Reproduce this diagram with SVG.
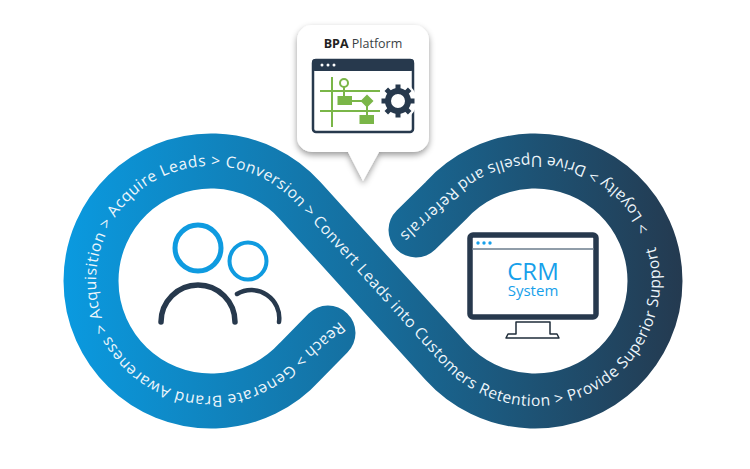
<svg xmlns="http://www.w3.org/2000/svg" width="750" height="469" viewBox="0 0 750 469">
<style>
.band{font-family:"Open Sans","DejaVu Sans",sans-serif;font-size:15.6px;font-weight:500;fill:#eef6fb;letter-spacing:.52px}
.tail{letter-spacing:.73px}
.d{fill:#27394d}.g{stroke:#7ab648;stroke-width:2;fill:none}.gf{fill:#7ab648}
.dk{fill:none;stroke:#27394d;stroke-linecap:round}
.bl{fill:none;stroke:#0f9be0}
.crm{font-family:"Open Sans","DejaVu Sans",sans-serif;fill:#17a0ea;text-anchor:middle}
</style>
<defs>
<linearGradient id="grad" gradientUnits="userSpaceOnUse" x1="63" y1="0" x2="682" y2="0">
<stop offset="0" stop-color="#0a9ae0"/><stop offset=".5" stop-color="#166d9c"/><stop offset="1" stop-color="#243a50"/>
</linearGradient>
<filter id="sh" x="-20%" y="-20%" width="140%" height="140%"><feDropShadow dx="0" dy="3" stdDeviation="3" flood-color="#000" flood-opacity=".4"/></filter>
<path id="tp" d="M341 320 L296.2 358.2 A115 115 0 1 1 296.2 203.8 L442.4 364.9 A125 125 0 1 0 442.4 197.1 L398 236"/>
</defs>
<rect width="750" height="469" fill="#fff"/>
<g id="connectors">
<path d="M328 333 L300 361.5 A120 120 0 1 1 300 200.5 L446 361.5 A120 120 0 1 0 446 200.5 L416 230" fill="none" stroke="url(#grad)" stroke-width="55" stroke-linecap="round"/>
<text class="band"><textPath href="#tp" startOffset="2">Reach &gt; Generate Brand Awareness &gt; Acquisition &gt; Acquire Leads &gt; Conversion &gt; Convert Leads into Customers Retention &gt; Provide Superior Support</textPath></text>
<text class="band tail"><textPath href="#tp" startOffset="1182">&gt; Loyalty &gt; Drive Upsells and Referrals</textPath></text>
</g>
<g id="bpa-platform">
<path d="M312 25H414a15 15 0 0 1 15 15V137a15 15 0 0 1-15 15H379L363 181L348 152H312a15 15 0 0 1-15-15V40a15 15 0 0 1 15-15Z" fill="#fff" filter="url(#sh)"/>
<text x="363" y="47.500" text-anchor="middle" font-family="'Open Sans','DejaVu Sans',sans-serif" font-size="12.500" fill="#3a3f45"><tspan font-weight="700" fill="#222">BPA</tspan> Platform</text>
<rect x="313" y="60" width="100" height="72" rx="3" fill="#fff" stroke="#27394d" stroke-width="2.500"/>
<rect x="312" y="59" width="102" height="12" rx="3" class="d"/>
<g fill="#fff"><circle cx="322" cy="65" r="1.500"/><circle cx="328" cy="65" r="1.500"/><circle cx="334" cy="65" r="1.500"/></g>
<path class="g" d="M332 77V127M320 91H380M320 111H380M344 87V97M352 101H362M367 106V116"/>
<circle cx="344" cy="83" r="4" class="g"/>
<rect x="337.500" y="96" width="14.500" height="9" class="gf"/>
<path d="M367 94.500L373.500 101L367 107.500L360.500 101Z" class="gf"/>
<rect x="359.500" y="115" width="14.500" height="9" class="gf"/>
<circle cx="398" cy="101" r="19" fill="#fff"/>
<circle cx="398" cy="101" r="10" fill="none" stroke="#27394d" stroke-width="6"/>
<g stroke="#27394d" stroke-width="5" fill="none"><path d="M398 84.500V90M398 112V117.500M381.500 101H387M409 101H414.500M386.300 89.300L390 93M406 109L409.700 112.700M386.300 112.700L390 109M406 93L409.700 89.300"/></g>
</g>
<g id="people">
<circle cx="198" cy="248" r="23" class="bl" stroke-width="5"/>
<circle cx="248" cy="261" r="18.500" class="bl" stroke-width="4"/>
<path class="dk" stroke-width="5.500" d="M161 322A37 37 0 0 1 235 322"/>
<path class="dk" stroke-width="4.500" d="M237 294A28 28 0 0 1 279 322"/>
</g>
<g id="crm-system">
<rect x="470" y="235" width="126" height="82" rx="3" fill="#fff" stroke="#27394d" stroke-width="5.500"/>
<path d="M472 249H594" stroke="#6b7c8c" stroke-width="1.500"/>
<g fill="#17a0ea"><circle cx="478" cy="243" r="1.700"/><circle cx="484" cy="243" r="1.700"/><circle cx="490" cy="243" r="1.700"/></g>
<text class="crm" x="533" y="280" font-size="24">CRM</text>
<text class="crm" x="533" y="296" font-size="15">System</text>
<path d="M516 322V334H508L506 338H559L557 334H550V322Z" fill="#fff" stroke="#1f2d3a" stroke-width="1.500" stroke-linejoin="round"/>
</g>
</svg>
